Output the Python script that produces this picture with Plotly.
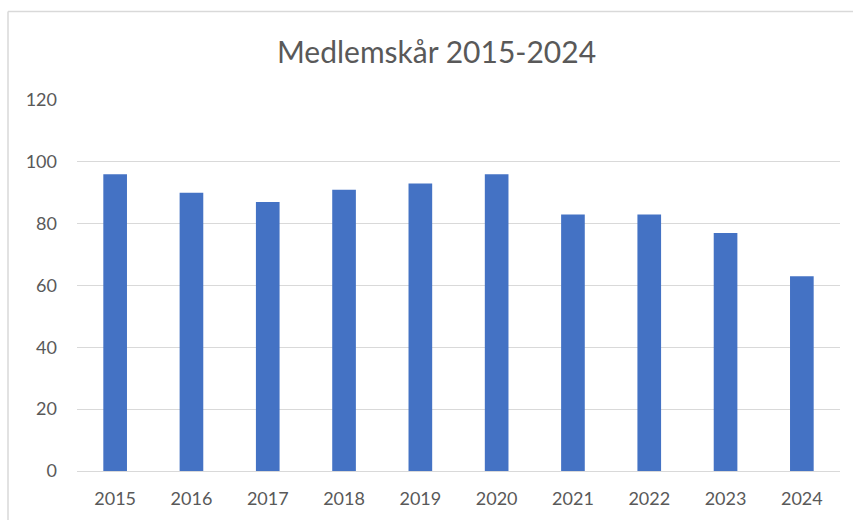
import plotly.graph_objects as go

years = ["2015", "2016", "2017", "2018", "2019", "2020", "2021", "2022", "2023", "2024"]
members = [96, 90, 87, 91, 93, 96, 83, 83, 77, 63]
y_ticks = [0, 20, 40, 60, 80, 100, 120]

W, H = 853, 520
L, R, T, B = 77, 13, 100, 49
pw, ph = W - L - R, H - T - B

fig = go.Figure(go.Bar(x=years, y=members, marker=dict(color="#4472C4", line=dict(width=0)),
                       hoverinfo="x+y"))

fig.update_layout(
    width=W, height=H,
    margin=dict(l=L, r=R, t=T, b=B),
    paper_bgcolor="white", plot_bgcolor="white",
    bargap=0.69,
    font=dict(family="Lato, 'Open Sans', sans-serif", color="#595959", size=18),
    title=dict(text="Medlemskår 2015-2024", x=436.5 / W, xref="container", xanchor="center",
               y=1 - 52 / H, yref="container", yanchor="middle",
               font=dict(size=30, color="#595959")),
    showlegend=False,
    xaxis=dict(showgrid=False, showline=True, linecolor="#D9D9D9", linewidth=1,
               ticks="", ticklabelstandoff=11, tickfont=dict(size=18, color="#595959")),
    yaxis=dict(range=[0, 120], tickvals=y_ticks, showgrid=True, gridcolor="#D9D9D9",
               gridwidth=1, zeroline=False, showline=False, ticks="",
               ticklabelstandoff=19, tickfont=dict(size=18, color="#595959")),
    shapes=[
        dict(type="line", xref="paper", yref="paper",
             x0=(8 - L) / pw, x1=(W + 60 - L) / pw,
             y0=((H - B) - 11.5) / ph, y1=((H - B) - 11.5) / ph,
             line=dict(color="#D9D9D9", width=1.5), layer="below"),
        dict(type="line", xref="paper", yref="paper",
             x0=(8 - L) / pw, x1=(8 - L) / pw,
             y0=-(H + 60 - (H - B)) / ph, y1=((H - B) - 11.5) / ph,
             line=dict(color="#D9D9D9", width=1.5), layer="below"),
    ],
)

fig.write_html("out.html",
               config={"displayModeBar": False},
               post_script="document.body.style.margin='0';document.body.style.overflow='hidden';")
